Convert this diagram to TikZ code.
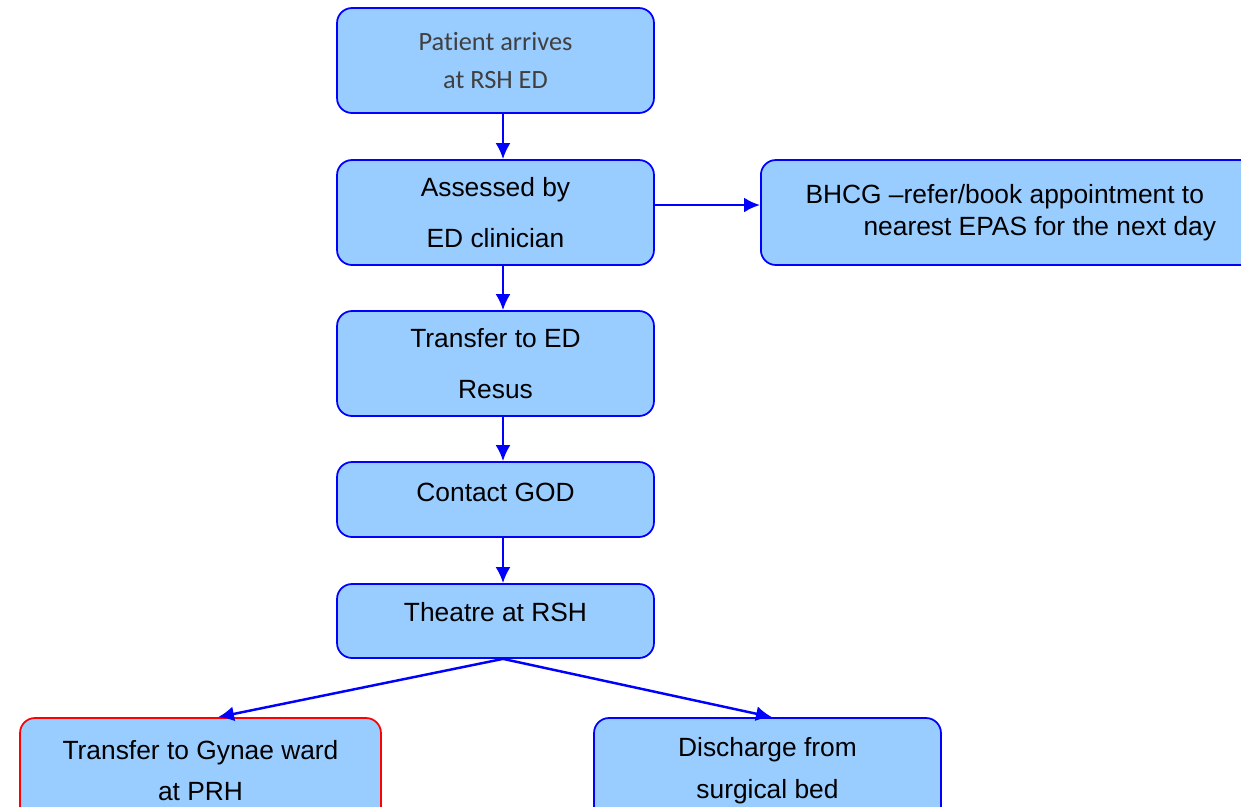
\documentclass[tikz,border=0pt]{standalone}
\usepackage{fontspec}
\setmainfont{Liberation Sans}
\newfontfamily\calibrifont[Ligatures=NoCommon]{Carlito}
\usepackage{tikz}
\usetikzlibrary{arrows.meta}
\definecolor{boxfill}{HTML}{99CCFF}
\definecolor{boxline}{HTML}{0000FF}
\definecolor{greytext}{HTML}{404040}

\begin{document}
\begin{tikzpicture}[x=0.02cm,y=-0.02cm,
	box/.style={rectangle, rounded corners=0.3cm, draw=boxline, line width=1pt, fill=boxfill, minimum width=6.34cm, minimum height=2.1cm, align=center, font=\fontsize{15}{29}\selectfont},
	arr/.style={draw=boxline, line width=1.4pt, -{Latex[length=3.2mm,width=3mm]}}]
\clip (0,0) rectangle (1241,806);
\node [box, text=greytext, font=\calibrifont\fontsize{15}{22}\selectfont] (a) at (495.5,60.5) {Patient arrives\\at RSH ED};
\node [box] (b) at (495.5,212.5) {Assessed by\\ED clinician};
\node [box, anchor=west, minimum width=10cm, align=left, font=\fontsize{15}{18}\selectfont] (c) at (760,212.5) {BHCG –refer/book appointment to\\\hspace*{1.16cm}nearest EPAS for the next day};
\node [box] (d) at (495.5,363.5) {Transfer to ED\\Resus};
\node [box, minimum height=1.5cm, text depth=0.3cm] (e) at (495.5,499.5) {Contact GOD};
\node [box, minimum height=1.48cm, text depth=0.36cm] (f) at (495.5,621) {Theatre at RSH};
\node [box, draw=red, minimum width=7.22cm, font=\fontsize{15}{23}\selectfont] (g) at (200.5,770.5) {Transfer to Gynae ward\\at PRH};
\node [box, minimum width=6.94cm, font=\fontsize{15}{24}\selectfont] (h) at (767.5,770.5) {Discharge from\\surgical bed};
\draw [arr] ([xshift=1.5mm]a.south) -- ([xshift=1.5mm]b.north);
\draw [arr] ([yshift=1.5mm]b.east) -- ([yshift=1.5mm]c.west);
\draw [arr] ([xshift=1.5mm]b.south) -- ([xshift=1.5mm]d.north);
\draw [arr] ([xshift=1.5mm]d.south) -- ([xshift=1.5mm]e.north);
\draw [arr] ([xshift=1.5mm]e.south) -- ([xshift=1.5mm]f.north);
\draw [arr] ([xshift=1.5mm]f.south) -- ([xshift=3.5mm]g.north);
\draw [arr] ([xshift=1.5mm]f.south) -- ([xshift=0.9mm]h.north);
\end{tikzpicture}
\end{document}
